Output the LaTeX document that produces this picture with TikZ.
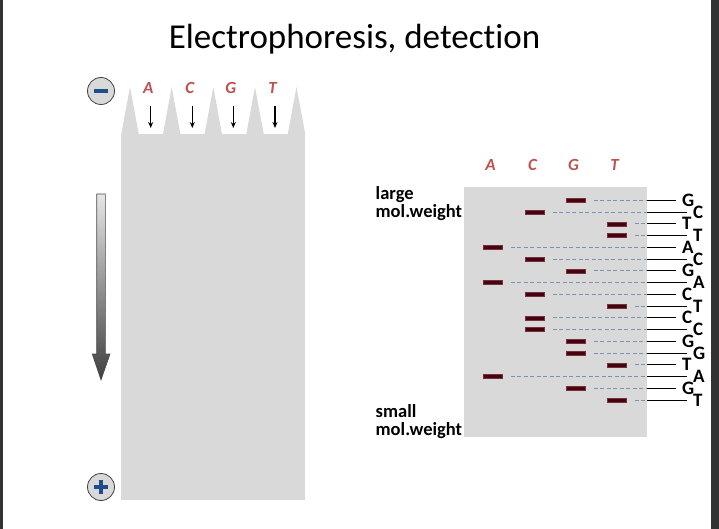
\documentclass[tikz,border=0pt]{standalone}
\usepackage{fontspec}
\setmainfont{Carlito}[Ligatures={NoCommon,NoContextual}]
\usetikzlibrary{arrows.meta}

\definecolor{gelgray}{RGB}{217,217,217}
\definecolor{lanered}{RGB}{192,80,77}
\definecolor{bandred}{RGB}{75,0,16}
\definecolor{dashblue}{RGB}{120,145,180}
\definecolor{poleblue}{RGB}{31,78,140}
\definecolor{framegray}{RGB}{51,51,51}

\tikzset{
  band/.style={rectangle, fill=bandred, draw=bandred!80!white, line width=0.4pt,
    minimum width=19pt, minimum height=4pt, inner sep=0pt},
  lanelabel/.style={text=lanered, font=\fontsize{17}{17}\selectfont\bfseries\itshape},
  baselabel/.style={anchor=west, inner xsep=6pt, inner ysep=0pt,
    font=\fontsize{19}{19}\selectfont\bfseries},
  sizelabel/.style={anchor=north west, align=left, inner sep=0pt,
    font=\fontsize{18.5}{18.5}\selectfont\bfseries},
  pole/.style={circle, draw=black!75, fill=gelgray, line width=0.8pt,
    minimum size=27pt, inner sep=0pt},
  guide/.style={dashblue, dash pattern=on 4pt off 2.5pt, line width=0.9pt},
}

\begin{document}
\begin{tikzpicture}[x=1pt,y=-1pt]
    % Define the positions of the gels
    \def\gelleft{121}
    \def\gelright{305}
    \def\welltop{134}
    \def\toothtop{87}
    \def\rowstart{200.3}
    \def\rowstep{11.75}

    \useasboundingbox (0,0) rectangle (719,529);
    \fill[white] (0,0) rectangle (719,529);
    \fill[framegray] (0,0) rectangle (2.5,529);
    \fill[framegray] (711,0) rectangle (719,529);

    \node[font=\fontsize{35}{35}\selectfont, anchor=base] (title) at (354.5,49) {Electrophoresis, detection};

    % Draw the gel with its comb
    \fill[gelgray] (\gelleft,\welltop) rectangle (\gelright,500);
    \foreach \x in {130,171.7,213.3,255,296.5} {
      \fill[gelgray] (\x-8.7,\welltop) -- (\x,\toothtop) -- (\x+8.7,\welltop) -- cycle;
    }

    % Add the samples going into the wells
    \foreach \l/\x in {A/150.7,C/192.3,G/233.3,T/275} {
      \node[lanelabel] (well\l) at (\x-2.5,88) {\l};
      \coordinate (in\l) at (\x,106);
      \coordinate (out\l) at (\x,128);
      \draw[-{Stealth[length=6pt,width=5pt]}, line width=1.2pt] (in\l) -- (out\l);
    }

    % Poles
    \node[pole] (cathode) at (101,91) {};
    \draw[poleblue, line width=3.5pt] ([xshift=-7pt]cathode.center) -- ([xshift=7pt]cathode.center);
    \node[pole] (anode) at (101,487) {};
    \draw[poleblue, line width=3.5pt] ([xshift=-7pt]anode.center) -- ([xshift=7pt]anode.center);
    \draw[poleblue, line width=3.5pt] ([yshift=-7pt]anode.center) -- ([yshift=7pt]anode.center);

    % Direction of migration
    \shadedraw[top color=gray!20, bottom color=black!75, draw=black!70, line width=0.6pt]
      (96.7,194) -- (105.3,194) -- (105.3,354) -- (110,354) -- (101,380)
      -- (92.3,354) -- (96.7,354) -- cycle;

    % Draw the read-out gel
    \fill[gelgray] (464,187) rectangle (647,437);
    \foreach \l/\x in {A/493,C/535,G/576,T/617} {
      \coordinate (lane\l) at (\x,0);
      \node[lanelabel] (top\l) at (\x-2.5,165) {\l};
    }

    \node[sizelabel] (large) at (375.5,186) {large\\mol.weight};
    \node[sizelabel] (small) at (375.5,404) {small\\mol.weight};

    % Bands, read from top to bottom
    \foreach \b [count=\i from 0] in {G,C,T,T,A,C,G,A,C,T,C,C,G,G,T,A,G,T} {
      \pgfmathsetmacro\y{\rowstart+\rowstep*\i}
      \pgfmathsetmacro\xe{676+11*mod(\i,2)}
      \node[band] (band\i) at (lane\b |- 0,\y) {};
      \coordinate (edge\i) at (647,\y);
      \node[baselabel] (base\i) at (\xe,\y) {\b};
      \draw[guide] ([xshift=8pt]band\i.east) -- (edge\i);
      \draw[line width=0.8pt] (edge\i) -- (base\i);
    }
\end{tikzpicture}
\end{document}
